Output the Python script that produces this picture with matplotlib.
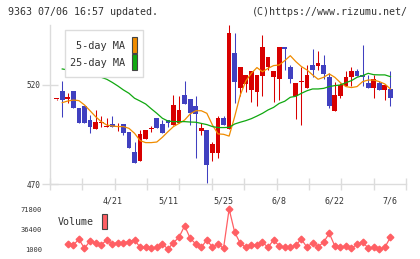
import numpy as np
import matplotlib
matplotlib.use("Agg")
import matplotlib.pyplot as plt  # noqa: E402
from matplotlib.patches import Rectangle  # noqa: E402

W, H = 420, 259
MONO = "DejaVu Sans Mono"
RED = "#d80000"
BLUE = "#4040c0"
ORANGE = "#f08c00"
GREEN = "#10a810"
PINK = "#ff5f64"
GRID = "#dcdcdc"

# daily candles, oldest first (last one is 7/6)
opens = [512.8, 517.0, 512.8, 517.0, 508.2, 509.4, 502.3, 498.0, 501.0, 499.0,
         500.3, 499.0, 500.3, 496.4, 486.2, 481.8, 492.9, 497.8, 503.3, 500.3,
         502.3, 500.0, 500.6, 515.0, 512.9, 509.4, 496.9, 497.3, 485.8, 485.8,
         503.3, 497.9, 536.3, 518.7, 520.5, 517.5, 516.6, 524.7, 528.9, 523.9,
         522.9, 539.0, 528.9, 514.6, 521.7, 518.7, 530.1, 529.8, 530.1, 524.2,
         507.0, 514.4, 519.7, 523.9, 527.1, 525.1, 521.2, 518.7, 521.2, 517.5,
         518.0]
highs = [513.0, 522.0, 516.1, 517.0, 508.2, 509.4, 504.8, 507.4, 504.3, 503.5,
         504.3, 500.6, 500.3, 496.4, 491.4, 497.3, 497.3, 499.3, 503.3, 502.3,
         502.3, 515.0, 514.4, 522.0, 512.9, 514.4, 500.6, 497.3, 491.4, 504.3,
         504.3, 550.3, 546.4, 528.9, 525.1, 527.1, 525.1, 545.3, 534.0, 527.1,
         539.0, 539.0, 530.1, 520.8, 528.9, 530.1, 538.0, 537.2, 535.2, 525.9,
         521.7, 521.2, 527.1, 528.9, 528.1, 540.2, 525.1, 525.1, 522.0, 520.0,
         527.1]
lows = [512.6, 504.0, 510.7, 508.2, 501.0, 501.0, 495.9, 498.0, 499.0, 499.0,
        499.0, 497.0, 494.7, 488.0, 480.8, 481.8, 492.9, 496.4, 498.1, 495.9,
        499.0, 500.0, 500.6, 510.4, 500.0, 483.0, 494.7, 470.3, 481.8, 483.0,
        500.0, 497.9, 510.7, 514.4, 516.6, 511.6, 509.4, 514.4, 527.6, 511.6,
        512.4, 527.6, 520.8, 503.0, 499.8, 518.7, 523.9, 527.6, 522.9, 508.2,
        507.0, 513.3, 519.7, 519.7, 524.7, 519.7, 518.7, 513.6, 517.5, 512.4,
        509.4]
closes = [513.0, 512.4, 513.9, 508.2, 501.0, 501.0, 499.0, 501.3, 501.5, 499.3,
          499.0, 499.3, 495.9, 488.0, 480.8, 495.3, 497.3, 498.3, 498.1, 495.9,
          501.0, 509.9, 507.4, 510.4, 506.0, 505.4, 498.5, 479.6, 490.2, 503.3,
          500.0, 546.4, 521.7, 528.9, 525.1, 527.1, 525.1, 539.0, 534.0, 527.1,
          539.0, 538.0, 522.9, 520.8, 522.0, 525.1, 527.6, 531.3, 525.6, 509.4,
          515.0, 520.0, 524.2, 527.1, 524.7, 523.9, 518.7, 522.9, 517.5, 520.0,
          513.6]

# moving averages, drawn from the 2nd candle on
ma5 = [511.1, 511.9, 512.4, 512.1, 509.9, 507.0, 504.0, 501.5, 499.8, 499.3,
       499.0, 499.0, 498.1, 495.6, 491.9, 490.9, 490.9, 491.2, 493.6, 496.4,
       499.0, 500.6, 502.3, 505.4, 507.0, 507.0, 505.7, 499.8, 495.3, 495.1,
       494.2, 504.0, 514.9, 522.0, 525.9, 528.8, 526.7, 528.4, 529.8, 530.1,
       532.3, 534.8, 531.8, 529.3, 527.6, 525.1, 522.9, 523.9, 525.6, 523.9,
       521.2, 519.2, 518.7, 519.2, 521.7, 522.5, 522.5, 521.7, 520.5, 518.0]
ma25 = [528.1, 527.6, 527.2, 526.7, 526.2, 525.6, 524.9, 523.9, 522.9, 521.3,
        519.5, 517.5, 515.8, 513.3, 511.9, 510.4, 508.0, 505.7, 503.2, 501.8,
        501.5, 501.5, 501.5, 501.3, 501.2, 500.6, 500.0, 499.0, 498.5, 498.5,
        498.6, 500.3, 501.2, 502.0, 503.0, 504.3, 505.7, 507.4, 508.7, 510.7,
        511.8, 513.8, 514.3, 515.8, 517.1, 518.0, 518.0, 518.3, 519.2, 519.7,
        520.0, 521.2, 522.2, 523.9, 524.7, 525.9, 525.2, 525.1, 525.1, 524.2]

# volume, from the 3rd candle on
volume = [9925, 8140, 18255, 2190, 15280, 12305, 8140, 17065, 9925, 12305,
          12305, 14090, 17065, 3975, 3975, 2190, 3975, 9925, 1000, 12305,
          21825, 42055, 20040, 9925, 3975, 17065, 3975, 9925, 2190, 71800,
          30750, 11115, 3975, 8140, 8140, 12900, 3975, 17065, 6355, 3975,
          3975, 8140, 18255, 3975, 12305, 5165, 12900, 28965, 6355, 3975,
          6355, 2190, 9330, 14090, 2190, 3975, 1000, 3975, 21825]

date_labels = ["4/21", "5/11", "5/25", "6/8", "6/22", "7/6"]
date_pos = [10, 20, 30, 40, 50, 60]
price_ticks = [470, 520]
vol_ticks = [1000, 36400, 71800]


def fx(x):
    return x / W


def fy(y):
    return 1 - y / H


fig = plt.figure(figsize=(W / 100, H / 100), dpi=100)
fig.patch.set_facecolor("white")

# ---- price panel
ax = fig.add_axes([fx(50), fy(184), 356 / W, 159 / H])
idx = np.arange(len(opens))
o = np.array(opens)
c = np.array(closes)
up = c >= o
cols = np.where(up, RED, BLUE)
ax.vlines(idx, lows, highs, colors=cols, linewidth=0.75, zorder=2)
body = np.maximum(np.abs(c - o), 0.5)
ax.bar(idx, body, bottom=np.minimum(o, c), width=0.85, color=cols,
       linewidth=0, zorder=3)
ax.plot(idx[1:], ma5, color=ORANGE, lw=0.9, zorder=4)
ax.plot(idx[1:], ma25, color=GREEN, lw=0.9, zorder=4)

ax.set_xlim(-1.2, 62.8)
ax.set_ylim(470, 550.3)
for s in ("top", "right"):
    ax.spines[s].set_visible(False)
for s in ("left", "bottom"):
    ax.spines[s].set_color(GRID)
    ax.spines[s].set_linewidth(1.0)
ax.set_xticks(date_pos)
ax.set_xticklabels(date_labels, fontsize=6, family=MONO, color="#333333")
ax.set_xticks(np.linspace(-1.2, 62.8, 12), minor=True)
ax.tick_params(axis="x", which="major", length=0, pad=9)
ax.tick_params(axis="x", which="minor", direction="inout", length=8,
               color=GRID, width=1.0)
ax.set_yticks(price_ticks)
ax.set_yticklabels([str(t) for t in price_ticks], fontsize=5.6, family=MONO,
                   color="#333333")
ax.tick_params(axis="y", direction="inout", length=12, color=GRID, width=1.0,
               pad=1)

# ---- volume panel
vx = fig.add_axes([fx(50), fy(249), 356 / W, 40 / H])
vx.plot(idx[2:], volume, color=PINK, lw=0.9, marker="D", markersize=3.4,
        clip_on=False)
vx.set_xlim(-1.2, 62.8)
vx.set_ylim(1000, 71800)
for s in vx.spines.values():
    s.set_visible(False)
vx.set_xticks([])
vx.set_yticks(vol_ticks)
vx.set_yticklabels([str(t) for t in vol_ticks], fontsize=5, family=MONO,
                   color="#333333")
vx.tick_params(axis="y", length=0, pad=6)

# ---- header
fig.text(fx(8), fy(12), "9363 07/06 16:57 updated.", fontsize=7.2,
         family=MONO, color="#333333", va="center", ha="left")
fig.text(fx(408), fy(12), "(C)https://www.rizumu.net/", fontsize=7.2,
         family=MONO, color="#333333", va="center", ha="right")

# ---- legends
fig.add_artist(Rectangle((fx(65), fy(77)), 78 / W, 47 / H,
                         transform=fig.transFigure, facecolor="white",
                         edgecolor=GRID, linewidth=1.0, zorder=5))
fig.text(fx(125), fy(46), "5-day MA", fontsize=7.4, family=MONO,
         color="#333333", ha="right", va="center", zorder=6)
fig.text(fx(125), fy(63), "25-day MA", fontsize=7.4, family=MONO,
         color="#333333", ha="right", va="center", zorder=6)
fig.add_artist(Rectangle((fx(132), fy(53)), 5 / W, 16 / H,
                         transform=fig.transFigure, facecolor=ORANGE,
                         edgecolor="#444444", linewidth=0.8, zorder=6))
fig.add_artist(Rectangle((fx(132), fy(70)), 5 / W, 16 / H,
                         transform=fig.transFigure, facecolor=GREEN,
                         edgecolor="#444444", linewidth=0.8, zorder=6))

fig.text(fx(58), fy(222), "Volume", fontsize=7.2, family=MONO,
         color="#333333", ha="left", va="center")
fig.add_artist(Rectangle((fx(102), fy(229)), 5 / W, 15 / H,
                         transform=fig.transFigure, facecolor=PINK,
                         edgecolor="#444444", linewidth=0.8, zorder=6))

fig.savefig("out.png", dpi=100, facecolor="white")
